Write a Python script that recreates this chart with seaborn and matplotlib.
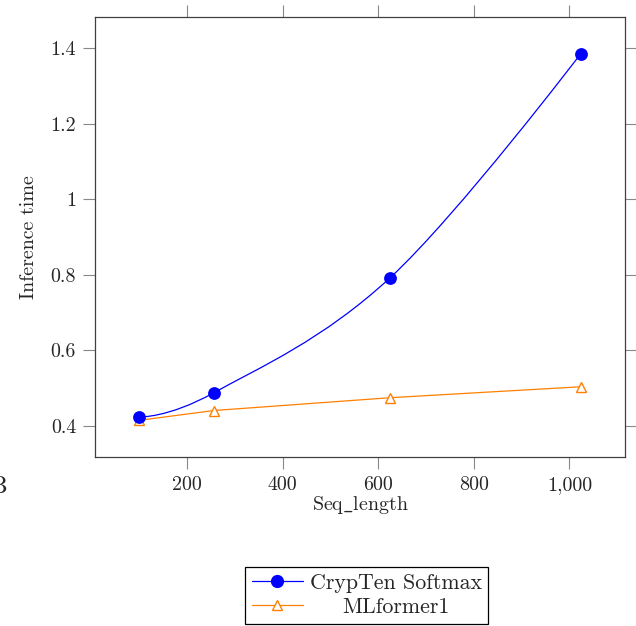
import numpy as np
import pandas as pd
import matplotlib
import matplotlib.pyplot as plt
import seaborn as sns
from matplotlib.path import Path
from matplotlib.patches import PathPatch
from matplotlib.lines import Line2D
from matplotlib.ticker import FuncFormatter, MultipleLocator
from matplotlib.transforms import Affine2D

# data
seq_len = [100, 256, 625, 1024]
crypten_softmax = [0.423, 0.487, 0.792, 1.386]
mlformer1 = [0.414, 0.440, 0.474, 0.503]
series_names = ['CrypTen Softmax', 'MLformer1']

sns.set_style('ticks')
plt.rcParams['font.family'] = ['cmr10', 'DejaVu Serif']
plt.rcParams['axes.formatter.use_mathtext'] = True
plt.rcParams['mathtext.fontset'] = 'cm'

BLUE = '#0000ff'
ORANGE = '#ff8000'
FS = 14.4

fig = plt.figure(figsize=(6.36, 6.26), dpi=100)
ax = fig.add_axes([95/636, 1-457/626, 530/636, 440/626])

# pgfplots-like enlarged limits (10%)
xr = max(seq_len) - min(seq_len)
allv = crypten_softmax + mlformer1
yr = max(allv) - min(allv)
xlim = (min(seq_len) - 0.1*xr, max(seq_len) + 0.1*xr)
ylim = (min(allv) - 0.1*yr, max(allv) + 0.1*yr)

df = pd.DataFrame({'Seq_length': seq_len, 'Inference time': mlformer1})
sns.lineplot(data=df, x='Seq_length', y='Inference time', ax=ax, color=ORANGE,
             lw=0.9, marker='^', markersize=7, markerfacecolor='white',
             markeredgecolor=ORANGE, markeredgewidth=1.0)

# smooth curve (tikz "smooth") for the softmax series, built in canvas units
sx = 530 / (xlim[1] - xlim[0])
sy = 440 / (ylim[1] - ylim[0])
P = np.column_stack([np.array(seq_len) * sx, np.array(crypten_softmax) * sy])
t = 0.55 / 3
verts = [P[0]]
codes = [Path.MOVETO]
n = len(P)
for i in range(n - 1):
    c1 = P[i] if i == 0 else P[i] + t * (P[i+1] - P[i-1])
    c2 = P[i+1] if i == n - 2 else P[i+1] - t * (P[i+2] - P[i])
    verts += [c1, c2, P[i+1]]
    codes += [Path.CURVE4] * 3
verts = np.array(verts) / np.array([sx, sy])
ax.add_patch(PathPatch(Path(verts, codes), fill=False, edgecolor=BLUE, lw=0.9, zorder=3))
sns.scatterplot(x=seq_len, y=crypten_softmax, ax=ax, color=BLUE, s=85,
                edgecolor=BLUE, linewidth=0, zorder=4)

ax.set_xlim(xlim)
ax.set_ylim(ylim)
ax.xaxis.set_major_locator(MultipleLocator(200))
ax.yaxis.set_major_locator(MultipleLocator(0.2))
ax.xaxis.set_major_formatter(FuncFormatter(lambda v, p: f'{v:,.0f}'))
ax.yaxis.set_major_formatter(FuncFormatter(lambda v, p: f'{v:g}'))
ax.tick_params(axis='both', which='major', direction='out', length=8.6, width=0.8,
               color='#888888', labelsize=FS, pad=5.0,
               top=True, right=True, labeltop=False, labelright=False)
for s in ax.spines.values():
    s.set_color('#404040')
    s.set_linewidth(0.9)
ax.set_xlabel(r'Seq$\_$length', fontsize=FS, labelpad=0)
ax.set_ylabel('Inference time', fontsize=FS, labelpad=9)

handles = [Line2D([], [], color=BLUE, lw=0.9, marker='o', markersize=8.5),
           Line2D([], [], color=ORANGE, lw=0.9, marker='^', markersize=7,
                  markerfacecolor='white', markeredgecolor=ORANGE)]
leg = fig.legend(handles, series_names, loc='upper left',
                 bbox_to_anchor=(245/636, 1-567/626), borderaxespad=0,
                 fontsize=15.8, handlelength=2.35, handletextpad=0.3,
                 labelspacing=0.2, borderpad=0.3, fancybox=False, framealpha=1)
leg.get_frame().set_edgecolor('black')
leg.get_frame().set_linewidth(0.9)

# center the legend labels in their column
fig.canvas.draw()
r = fig.canvas.get_renderer()
texts = leg.get_texts()
widths = [tx.get_window_extent(r).width for tx in texts]
for tx, w in zip(texts, widths):
    tx.set_transform(tx.get_transform() + Affine2D().translate((max(widths) - w) / 2, 0))

fig.text(-11/636, 1-487/626, 'B', fontsize=18, va='center', ha='left')

fig.savefig('out.png', dpi=100)
